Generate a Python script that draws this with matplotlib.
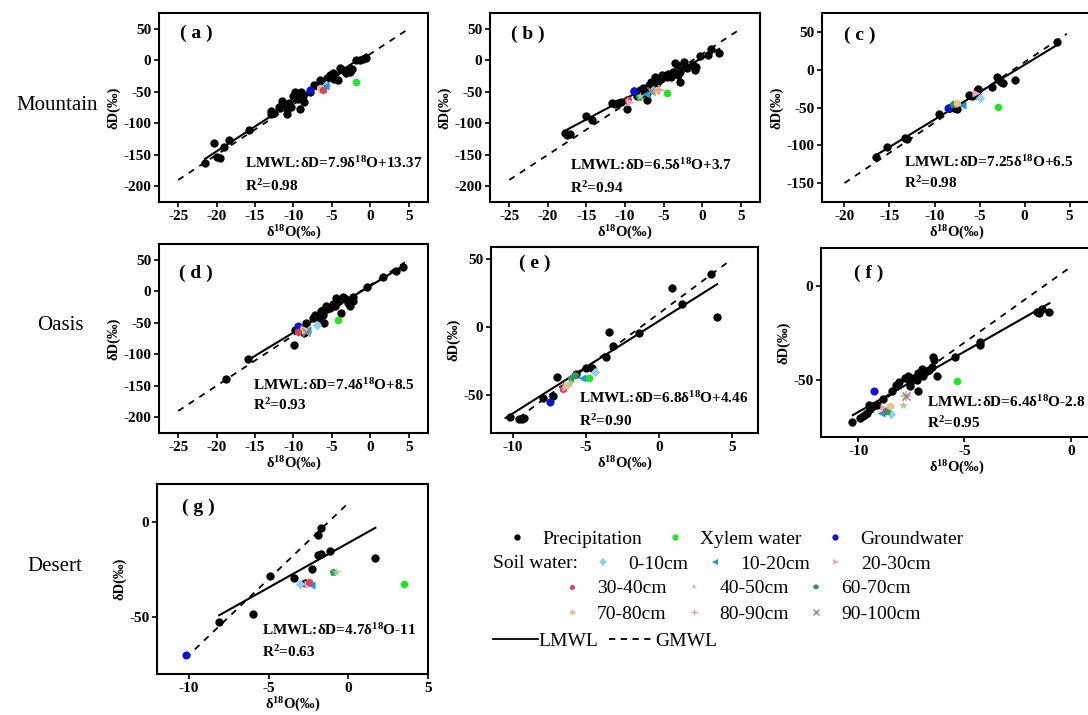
import numpy as np
import matplotlib
matplotlib.use("Agg")
import matplotlib.pyplot as plt
from matplotlib.lines import Line2D

plt.rcParams['font.family'] = ['Liberation Serif', 'DejaVu Serif']
plt.rcParams['font.weight'] = 'bold'
plt.rcParams['axes.unicode_minus'] = False
plt.rcParams['mathtext.fontset'] = 'custom'
plt.rcParams['mathtext.rm'] = 'Liberation Serif:bold'
plt.rcParams['mathtext.it'] = 'Liberation Serif:bold:italic'
plt.rcParams['mathtext.bf'] = 'Liberation Serif:bold'

# ---------------- data ----------------
panel_names = ['a', 'b', 'c', 'd', 'e', 'f', 'g']

a_pre_x = [-21.5, -20.3, -19.9, -19.6, -19.1, -18.4, -15.8, -12.9, -12.9, -12.5, -11.9, -11.7, -11.5,
           -11.2, -10.9, -10.9, -10.6, -10.3, -10.1, -9.8, -9.6, -9.4, -9.2, -9.0, -8.8, -8.6, -7.9,
           -7.3, -6.6, -6.4, -6.0, -5.6, -5.3, -5.1, -4.9, -4.7, -4.2, -4.0, -3.6, -3.2, -2.9, -2.7,
           -2.4, -1.9, -1.4, -1.0, -0.5]
a_pre_y = [-163, -131, -154, -155, -138, -126, -111, -80, -85, -84, -74, -76, -64,
           -72, -85, -77, -68, -74, -56, -50, -58, -61, -77, -50, -56, -66, -50,
           -40, -32, -40, -37, -28, -24, -26, -21, -29, -32, -13, -16, -20, -16, -19,
           -14, 1, 0, 2, 4]
b_pre_x = [-17.8, -17.5, -17.1, -15.0, -14.3, -11.75, -11.3, -10.9, -10.5, -9.8, -9.8, -8.9, -8.5,
           -8.1, -7.65, -7.2, -7.2, -6.9, -6.6, -6.1, -5.9, -5.6, -5.15, -4.6, -4.1, -3.55, -3.3,
           -2.9, -2.9, -3.1, -2.4, -2.0, -1.2, -0.97, -0.75, -0.3, 0.8, 1.2, 2.2, -4.4, -3.8, -5.4,
           -6.3, -7.5, -8.0]
b_pre_y = [-116, -118, -117, -88, -95, -68, -69, -68, -67, -77, -63, -49, -57,
           -47, -44, -52, -63, -39, -34, -26, -36, -31, -23, -26, -26, -4, -7,
           -18, -34, -23, -2, -12, -7, -15, -10, 6, 9, 18, 11, -22, -18, -30,
           -40, -50, -55]
c_pre_x = [-16.5, -15.3, -13.25, -13.0, -9.5, -8.4, -7.83, -7.5, -6.2, -5.8, -5.25, -5.2, -5.3,
           -3.6, -3.03, -2.85, -2.6, -2.4, -1.1, 3.6]
c_pre_y = [-116, -102, -91, -92, -59, -51, -50, -52, -33, -35, -28, -26, -33,
           -23, -9, -13, -16, -17, -13, 37]
d_pre_x = [-18.8, -15.9, -9.98, -9.85, -8.8, -8.6, -8.3, -7.5, -7.25, -6.6, -6.4, -6.2, -6.0,
           -5.7, -6.2, -5.2, -4.9, -4.65, -4.4, -4.2, -3.8, -3.6, -3.1, -2.9, -2.7, -2.3, -2.2,
           -0.45, 1.7, 3.3, 4.2]
d_pre_y = [-140, -108, -86, -62, -62, -66, -51, -43, -38, -43, -32, -38, -51,
           -23, -29, -26, -20, -23, -11, -15, -35, -9, -13, -19, -23, -9, -16,
           6, 23, 32, 39]
e_pre_x = [-10.23, -9.6, -9.4, -9.26, -7.93, -7.25, -7.0, -5.65, -4.96, -4.6, -3.6, -3.43, -3.13,
           -1.37, 0.92, 1.56, 3.6, 4.0]
e_pre_y = [-66.5, -68, -67.5, -67, -52, -50.5, -36.5, -34.6, -30, -30, -21.7, -3.6, -14,
           -4, 29, 17, 39, 7.2]
f_pre_x = [-10.3, -9.9, -9.76, -9.65, -9.57, -9.45, -9.48, -9.3, -9.1, -8.82, -8.43, -8.2, -8.1,
           -7.8, -7.64, -7.56, -7.56, -7.4, -7.24, -7.17, -7.17, -7.0, -6.93, -6.77, -6.65, -6.54,
           -6.46, -6.43, -6.3, -5.43, -4.28, -4.28, -1.6, -1.5, -1.34, -1.02]
f_pre_y = [-72, -70, -69, -68, -67.5, -65.4, -63, -63.7, -62.8, -60, -55.8, -52.3, -51,
           -48.8, -47.9, -51.4, -53.2, -48.8, -49.6, -46.1, -55.8, -44, -47.9, -45.3, -44.4, -43,
           -37.4, -39, -47.5, -37.9, -29.5, -31.2, -13.7, -14.2, -12.3, -13.7]
g_pre_x = [-8.1, -5.99, -4.9, -3.38, -2.72, -2.26, -1.88, -1.73, -1.88, -1.73, -1.14, 1.69]
g_pre_y = [-52.6, -48.2, -28.2, -29.3, -32.1, -24.7, -17.5, -17, -6.7, -3.2, -15.3, -18.8]

xylem_x = [-1.84, -4.6, -3.0, -4.2, -4.77, -5.35, 3.48]
xylem_y = [-35, -52, -49, -45, -37.2, -50.2, -32.5]
ground_x = [-7.9, -8.9, -8.5, -9.4, -7.48, -9.26, -10.17]
ground_y = [-47, -49, -50, -55, -55.4, -55.8, -69.8]

a_soil_layer = ['0-10cm', '10-20cm', '70-80cm', '20-30cm', '30-40cm']
a_soil_x = [-5.8, -5.9, -6.6, -6.3, -6.2]
a_soil_y = [-40, -41, -44, -45, -47]
b_soil_layer = ['30-40cm', '20-30cm', '60-70cm', '40-50cm', '10-20cm', '0-10cm', '90-100cm', '70-80cm', '80-90cm']
b_soil_x = [-9.6, -9.3, -8.2, -8.0, -7.3, -6.4, -6.7, -5.8, -5.6]
b_soil_y = [-63, -66, -58, -56, -53, -48, -49, -48, -47]
c_soil_layer = ['10-20cm', '30-40cm', '60-70cm', '70-80cm', '20-30cm', '0-10cm']
c_soil_x = [-7.0, -7.7, -7.9, -7.45, -5.4, -4.9]
c_soil_y = [-47, -46, -45, -44, -31, -37]
d_soil_layer = ['10-20cm', '20-30cm', '70-80cm', '90-100cm', '30-40cm', '0-10cm']
d_soil_x = [-8.2, -8.6, -8.8, -8.3, -9.4, -6.95]
d_soil_y = [-62, -60, -62, -64, -64, -53]
e_soil_layer = ['10-20cm', '0-10cm', '60-70cm', '60-70cm', '30-40cm', '20-30cm', '70-80cm', '40-50cm']
e_soil_x = [-5.23, -4.38, -6.0, -5.76, -6.56, -6.33, -6.3, -6.1]
e_soil_y = [-37.2, -32.8, -37.7, -35, -45.8, -43.9, -42.6, -41]
f_soil_layer = ['80-90cm', '90-100cm', '40-50cm', '10-20cm', '0-10cm', '20-30cm', '30-40cm', '60-70cm', '70-80cm']
f_soil_x = [-7.75, -7.75, -7.87, -8.93, -8.47, -8.77, -8.7, -8.66, -8.5]
f_soil_y = [-58.4, -58.4, -63.3, -67.5, -68, -64.6, -66.5, -66, -63.7]
g_soil_layer = ['0-10cm', '10-20cm', '20-30cm', '30-40cm', '60-70cm', '40-50cm']
g_soil_x = [-3.04, -2.36, -2.55, -2.47, -0.99, -0.78]
g_soil_y = [-32.8, -33, -32.5, -31.8, -26.5, -26.5]

lmwl_slope = [7.9, 6.5, 7.25, 7.4, 6.8, 6.4, 4.7]
lmwl_icpt = [13.37, 3.7, 6.5, 8.5, 4.46, -2.8, -11]
lmwl_x0 = [-21.5, -17.8, -16.6, -15.9, -10.5, -10.25, -8.1]
lmwl_x1 = [-0.5, 2.2, 3.5, 4.3, 4.0, -1.0, 1.7]
gmwl_x0 = [-25, -25, -20, -25, -9.6, -9.6, -10.2]
gmwl_x1 = [4.6, 4.6, 4.7, 4.5, 5.0, 0.0, -0.1]
r2_text = ['0.98', '0.94', '0.98', '0.93', '0.90', '0.95', '0.63']

soil_layers = ['0-10cm', '10-20cm', '20-30cm', '30-40cm', '40-50cm', '60-70cm', '70-80cm', '80-90cm', '90-100cm']
row_names = ['Mountain', 'Oasis', 'Desert']

# ---------------- styles / layout ----------------
soil_markers = ['D', '<', '>', 'h', '*', 'p', 'h', '+', 'x']
soil_colors = ['#8fd0ee', '#1b9bd8', '#eea7c0', '#d6455f', '#a9c99b', '#2e9a57', '#edc08e', '#efa08a', '#8c8c8c']
soil_sizes = [24, 34, 34, 34, 44, 34, 34, 44, 34]
xylem_color = '#22e622'
ground_color = '#0a14d2'
dash = (0, (3.5, 3.5))

axes_pos = [[0.1461, 0.7175, 0.2472, 0.2643],
            [0.4504, 0.7175, 0.2482, 0.2643],
            [0.7555, 0.7175, 0.2482, 0.2643],
            [0.1461, 0.3944, 0.2472, 0.2643],
            [0.4513, 0.3944, 0.2454, 0.2601],
            [0.7546, 0.3888, 0.2491, 0.2643],
            [0.1443, 0.0573, 0.2491, 0.2657]]
xlims = [(-27.5, 7.5), (-27.5, 7.5), (-22.5, 7.5), (-27.5, 7.5), (-11.5, 6.8), (-11.75, 1.0), (-12, 5)]
ylims = [(-225, 75), (-225, 75), (-175, 75), (-225, 75), (-78, 59), (-80, 20), (-80, 20)]
xticks = [range(-25, 6, 5), range(-25, 6, 5), range(-20, 6, 5), range(-25, 6, 5),
          [-10, -5, 0, 5], [-10, -5, 0], [-10, -5, 0, 5]]
yticks = [range(-200, 51, 50), range(-200, 51, 50), range(-150, 51, 50), range(-200, 51, 50),
          [-50, 0, 50], [-50, 0], [-50, 0]]
label_pos = [(0.08, 0.89), (0.076, 0.886), (0.08, 0.884), (0.073, 0.847),
             (0.104, 0.914), (0.12, 0.868), (0.091, 0.879)]
eq_pos = [(0.32, 0.206, 0.085), (0.296, 0.196, 0.074), (0.304, 0.212, 0.10), (0.35, 0.254, 0.148),
          (0.33, 0.188, 0.065), (0.39, 0.185, 0.074), (0.387, 0.232, 0.116)]

pre_x = [a_pre_x, b_pre_x, c_pre_x, d_pre_x, e_pre_x, f_pre_x, g_pre_x]
pre_y = [a_pre_y, b_pre_y, c_pre_y, d_pre_y, e_pre_y, f_pre_y, g_pre_y]
soil_l = [a_soil_layer, b_soil_layer, c_soil_layer, d_soil_layer, e_soil_layer, f_soil_layer, g_soil_layer]
soil_x = [a_soil_x, b_soil_x, c_soil_x, d_soil_x, e_soil_x, f_soil_x, g_soil_x]
soil_y = [a_soil_y, b_soil_y, c_soil_y, d_soil_y, e_soil_y, f_soil_y, g_soil_y]

fig = plt.figure(figsize=(10.88, 7.15), dpi=100)

for i in range(7):
    ax = fig.add_axes(axes_pos[i])
    xs = np.array([lmwl_x0[i], lmwl_x1[i]])
    ax.plot(xs, lmwl_slope[i] * xs + lmwl_icpt[i], color='k', lw=1.5, zorder=2)
    xg = np.array([gmwl_x0[i], gmwl_x1[i]])
    ax.plot(xg, 8 * xg + 10, color='k', lw=1.3, ls=dash, zorder=2)
    ax.scatter(pre_x[i], pre_y[i], s=36, c='k', linewidths=0, zorder=3)
    ax.scatter([ground_x[i]], [ground_y[i]], s=34, c=ground_color, linewidths=0, zorder=4)
    ax.scatter([xylem_x[i]], [xylem_y[i]], s=30, c=xylem_color, linewidths=0, zorder=4)
    for lay, sx, sy in zip(soil_l[i], soil_x[i], soil_y[i]):
        k = soil_layers.index(lay)
        lw = 1.2 if soil_markers[k] in ('+', 'x') else 0
        ax.scatter([sx], [sy], s=soil_sizes[k], c=soil_colors[k], marker=soil_markers[k],
                   linewidths=lw, zorder=5)

    ax.set_xlim(xlims[i])
    ax.set_ylim(ylims[i])
    ax.set_xticks(list(xticks[i]))
    ax.set_yticks(list(yticks[i]))
    ax.tick_params(direction='out', length=3.5, width=1.2, labelsize=11, pad=2,
                   top=False, right=False)
    for sp in ax.spines.values():
        sp.set_linewidth(1.5)
    ax.set_xlabel('δ$^{18}$O(‰)', fontsize=10.5, fontweight='bold', labelpad=1)
    ax.set_ylabel('δD(‰)', fontsize=10.5, fontweight='bold', labelpad=2)

    lx, ly = label_pos[i]
    ax.text(lx, ly, '( ' + panel_names[i] + ' )', transform=ax.transAxes, fontsize=14,
            fontweight='bold', va='center', ha='left')
    ex, ey1, ey2 = eq_pos[i]
    b = lmwl_icpt[i]
    sign = '+' if b >= 0 else '-'
    eq = 'LMWL:δD=%gδ$^{18}$O%s%g' % (lmwl_slope[i], sign, abs(b))
    ax.text(ex, ey1, eq, transform=ax.transAxes, fontsize=11, fontweight='bold',
            va='center', ha='left')
    ax.text(ex, ey2, 'R$^{2}$=' + r2_text[i], transform=ax.transAxes, fontsize=11,
            fontweight='bold', va='center', ha='left')

# row labels
row_y = [0.853, 0.545, 0.208]
row_x = [0.0147, 0.034, 0.0248]
for name, rx, ry in zip(row_names, row_x, row_y):
    fig.text(rx, ry, name, fontsize=15, fontweight='normal', va='center', ha='left')

# legend
prop = {'family': 'Liberation Serif', 'size': 14, 'weight': 'normal'}
h1 = [Line2D([], [], ls='none', marker='o', color='k', markersize=3.5),
      Line2D([], [], ls='none', marker='o', color=xylem_color, markersize=3.5),
      Line2D([], [], ls='none', marker='o', color=ground_color, markersize=3.5)]
fig.legend(h1, ['Precipitation', 'Xylem water', 'Groundwater'], loc='center left',
           bbox_to_anchor=(0.4699, 0.2462), ncol=3, frameon=False, prop=prop,
           handlelength=0.6, handletextpad=1.0, columnspacing=1.4, borderpad=0, borderaxespad=0)

fig.text(0.4531, 0.2112, 'Soil water:', fontsize=14, fontweight='normal', va='center', ha='left')


def soil_handle(k):
    mew = 1.0 if soil_markers[k] in ('+', 'x') else 0
    return Line2D([], [], ls='none', marker=soil_markers[k], color=soil_colors[k],
                  markersize=4, markeredgewidth=mew)


fig.legend([soil_handle(k) for k in range(3)], soil_layers[:3], loc='center left',
           bbox_to_anchor=(0.5489, 0.2112), ncol=3, frameon=False, prop=prop,
           handlelength=0.6, handletextpad=1.0, columnspacing=1.05, borderpad=0, borderaxespad=0)

order = [3, 6, 4, 7, 5, 8]
fig.legend([soil_handle(k) for k in order], [soil_layers[k] for k in order], loc='center left',
           bbox_to_anchor=(0.5203, 0.1587), ncol=3, frameon=False, prop=prop,
           handlelength=0.6, handletextpad=1.0, columnspacing=1.1, labelspacing=0.42,
           borderpad=0, borderaxespad=0)

h5 = [Line2D([], [], color='k', lw=1.3),
      Line2D([], [], color='k', lw=1.3, ls=(0, (3.5, 3)))]
fig.legend(h5, ['LMWL', 'GMWL'], loc='center left', bbox_to_anchor=(0.4531, 0.1035), ncol=2,
           frameon=False, prop=prop, handlelength=2.3, handletextpad=0.05, columnspacing=0.55,
           borderpad=0, borderaxespad=0)

fig.savefig('out.png', dpi=100)
